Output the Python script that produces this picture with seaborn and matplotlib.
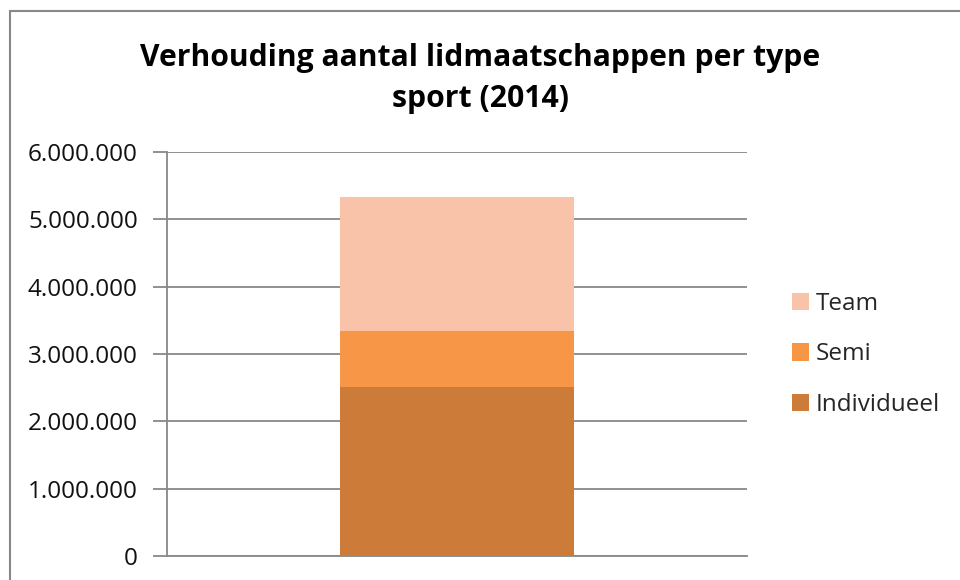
import matplotlib
matplotlib.use("Agg")
import matplotlib.pyplot as plt
from matplotlib.lines import Line2D
from matplotlib.patches import Patch
from matplotlib.ticker import FuncFormatter
import seaborn as sns
import pandas as pd
import numpy as np

categories = ["2014"]
series = ["Individueel", "Semi", "Team"]
individueel = [2512000]
semi = [832000]
team = [1992000]
colors = ["#CC7B38", "#F79646", "#F9C3A9"]
title = "Verhouding aantal lidmaatschappen per type\nsport (2014)"

sns.set_theme(style="white")
plt.rcParams["font.family"] = ["Open Sans", "DejaVu Sans"]

fig = plt.figure(figsize=(9.6, 5.8), dpi=100)
ax = fig.add_axes([167/960, 1-556/580, 580/960, 404/580])

values = [individueel, semi, team]
bottom = np.zeros(len(categories))
for name, vals, col in zip(series, values, colors):
    df = pd.DataFrame({"cat": categories, "val": np.array(vals) + bottom})
    sns.barplot(data=df, x="cat", y="val", color=col, width=0.403, ax=ax,
                saturation=1, order=categories)
    bottom = bottom + np.array(vals)

# lower segments drawn on top of the cumulative taller bars
for i, p in enumerate(ax.patches):
    p.set_zorder(10 - i)
    p.set_edgecolor("none")

ax.set_ylim(0, 6000000)
ax.set_xlim(-0.5, 0.5)
ax.set_yticks(np.arange(0, 6000001, 1000000))
ax.yaxis.set_major_formatter(FuncFormatter(lambda v, p: f"{int(v):,}".replace(",", ".")))
ax.set_xticks([])
ax.set_xlabel("")
ax.set_ylabel("")
ax.grid(axis="y", color="#888888", linewidth=1.3, zorder=0)
ax.set_axisbelow(True)
for s in ["top", "right"]:
    ax.spines[s].set_visible(False)
ax.spines["left"].set_color("#888888")
ax.spines["left"].set_linewidth(1.3)
ax.spines["bottom"].set_color("#888888")
ax.spines["bottom"].set_linewidth(1.3)
ax.tick_params(axis="y", which="major", direction="out", length=10, width=1.3,
               color="#888888", labelsize=17.5, pad=11, left=True, labelcolor="#111111")

fig.text(0.5, 1-78.5/580, title, ha="center", va="center", fontsize=21.7,
         fontweight="bold", linespacing=1.48, color="#000000")

handles = [Patch(facecolor=c, edgecolor="none", label=n) for n, c in zip(series, colors)][::-1]
fig.legend(handles=handles, loc="center left", bbox_to_anchor=(782/960, 1-354.5/580),
           frameon=False, fontsize=17.5, handlelength=0.7, handleheight=0.7,
           handletextpad=0.3, labelspacing=1.1, borderaxespad=0)

fig.add_artist(Line2D([10/960, 10/960], [0, 1-11/580], color="#888888", lw=1.5,
                      transform=fig.transFigure))
fig.add_artist(Line2D([10/960, 1], [1-11/580, 1-11/580], color="#888888", lw=1.5,
                      transform=fig.transFigure))

fig.savefig("out.png", dpi=100, facecolor="white")
